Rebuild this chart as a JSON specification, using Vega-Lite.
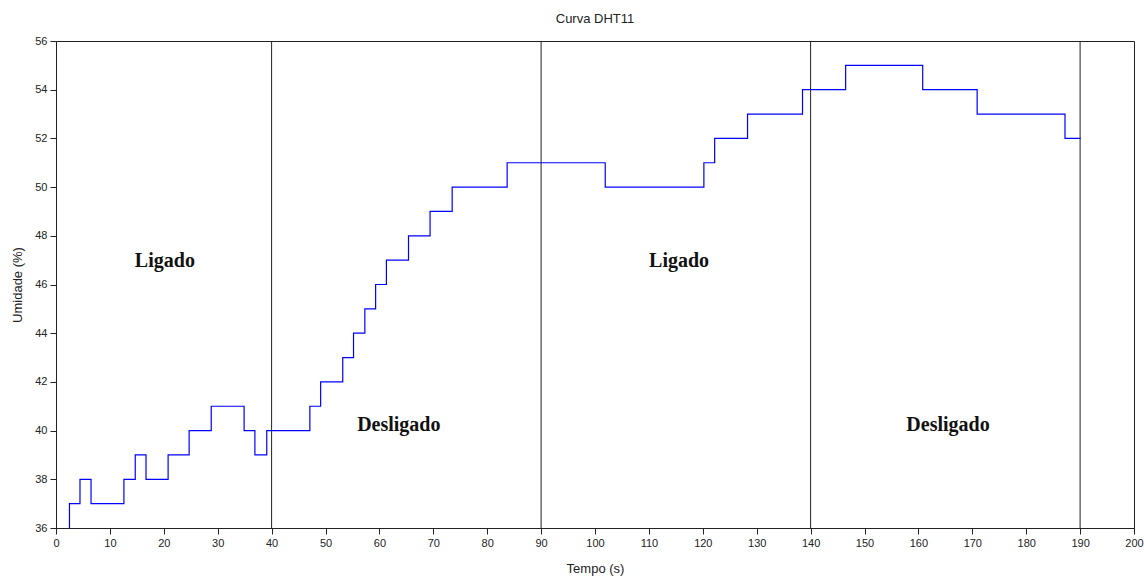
{
  "$schema": "https://vega.github.io/schema/vega-lite/v6.json",
  "autosize": "none",
  "width": 1078,
  "height": 487,
  "padding": {"left": 56, "top": 41, "right": 10, "bottom": 49},
  "background": "white",
  "title": {"text": "Curva DHT11", "font": "Liberation Sans", "fontSize": 13, "fontWeight": "normal", "color": "#222", "offset": 9},
  "config": {
    "view": {"stroke": "#222", "strokeWidth": 1},
    "axis": {"labelFont": "Liberation Sans", "titleFont": "Liberation Sans", "labelFontSize": 11, "titleFontSize": 13, "titleFontWeight": "normal", "labelColor": "#222", "titleColor": "#222", "domainColor": "#222", "tickColor": "#222", "grid": false}
  },
  "datasets": {
    "serie": [
      {"t": 2.4, "h": 36},
      {"t": 2.5, "h": 37},
      {"t": 4.45, "h": 38},
      {"t": 6.5, "h": 37},
      {"t": 12.6, "h": 38},
      {"t": 14.7, "h": 39},
      {"t": 16.7, "h": 38},
      {"t": 20.8, "h": 39},
      {"t": 24.7, "h": 40},
      {"t": 28.8, "h": 41},
      {"t": 34.9, "h": 40},
      {"t": 36.9, "h": 39},
      {"t": 39.1, "h": 40},
      {"t": 47.1, "h": 41},
      {"t": 49.1, "h": 42},
      {"t": 53.2, "h": 43},
      {"t": 55.2, "h": 44},
      {"t": 57.3, "h": 45},
      {"t": 59.3, "h": 46},
      {"t": 61.3, "h": 47},
      {"t": 65.4, "h": 48},
      {"t": 69.4, "h": 49},
      {"t": 73.5, "h": 50},
      {"t": 83.7, "h": 51},
      {"t": 101.9, "h": 50},
      {"t": 120.2, "h": 51},
      {"t": 122.2, "h": 52},
      {"t": 128.3, "h": 53},
      {"t": 138.5, "h": 54},
      {"t": 146.5, "h": 55},
      {"t": 160.8, "h": 54},
      {"t": 170.9, "h": 53},
      {"t": 187.2, "h": 52},
      {"t": 190.1, "h": 52}
    ],
    "marcos": [{"t": 40}, {"t": 90}, {"t": 140}, {"t": 190}],
    "rotulos": [
      {"t": 20.2, "h": 46.95, "label": "Ligado"},
      {"t": 115.6, "h": 46.95, "label": "Ligado"},
      {"t": 63.6, "h": 40.25, "label": "Desligado"},
      {"t": 165.5, "h": 40.25, "label": "Desligado"}
    ]
  },
  "layer": [
    {
      "data": {"name": "marcos"},
      "mark": {"type": "rule", "color": "#222", "strokeWidth": 1},
      "encoding": {
        "x": {"field": "t", "type": "quantitative", "scale": {"domain": [0, 200], "nice": false}}
      }
    },
    {
      "data": {"name": "serie"},
      "mark": {"type": "line", "interpolate": "step-after", "color": "#0000ff", "strokeWidth": 1.2},
      "encoding": {
        "x": {"field": "t", "type": "quantitative", "title": "Tempo (s)",
          "scale": {"domain": [0, 200], "nice": false},
          "axis": {"values": [0,5,10,15,20,25,30,35,40,45,50,55,60,65,70,75,80,85,90,95,100,105,110,115,120,125,130,135,140,145,150,155,160,165,170,175,180,185,190,195,200],
            "labelExpr": "datum.value % 10 === 0 ? datum.label : ''",
            "tickSize": {"condition": {"test": "datum.value % 10 === 0", "value": 6}, "value": 3},
            "labelPadding": 3, "titlePadding": 14, "labelFlush": false}},
        "y": {"field": "h", "type": "quantitative", "title": "Umidade (%)",
          "scale": {"domain": [36, 56], "nice": false, "zero": false},
          "axis": {"values": [36,37,38,39,40,41,42,43,44,45,46,47,48,49,50,51,52,53,54,55,56],
            "labelExpr": "datum.value % 2 === 0 ? datum.label : ''",
            "tickSize": {"condition": {"test": "datum.value % 2 === 0", "value": 6}, "value": 3},
            "labelPadding": 3, "titlePadding": 10, "labelFlush": false}}
      }
    },
    {
      "data": {"name": "rotulos"},
      "mark": {"type": "text", "font": "Liberation Serif", "fontWeight": "bold", "fontSize": 20, "color": "#111"},
      "encoding": {
        "x": {"field": "t", "type": "quantitative"},
        "y": {"field": "h", "type": "quantitative"},
        "text": {"field": "label"}
      }
    }
  ]
}
